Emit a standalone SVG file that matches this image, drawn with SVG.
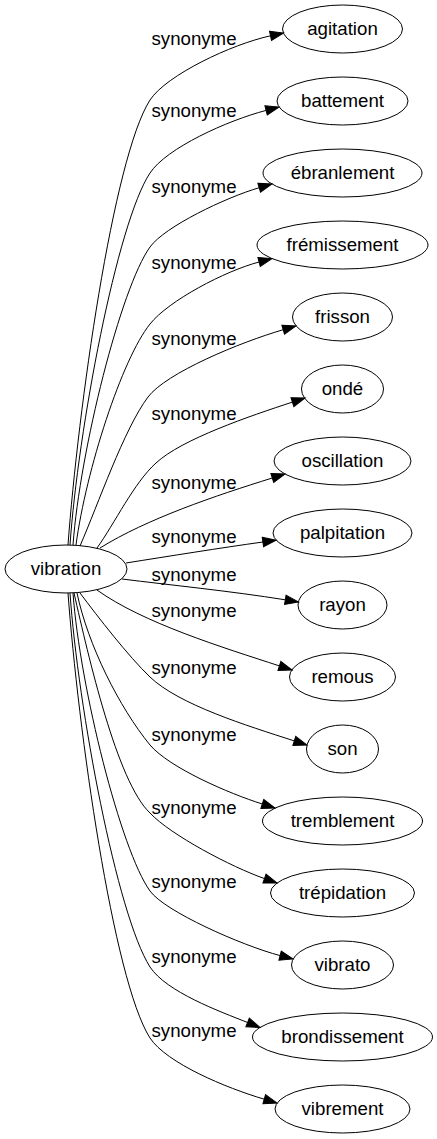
<svg xmlns="http://www.w3.org/2000/svg" width="437" height="1139" viewBox="0 0 437 1139">
<style>
.node ellipse{fill:none;stroke:#000;stroke-width:1}
text{font-family:"Liberation Sans",Arial,sans-serif;font-size:18.67px;text-anchor:middle;fill:#000}
.edges path{fill:none;stroke:#000;stroke-width:1;marker-end:url(#arr)}
</style>
<defs>
<marker id="arr" viewBox="0 0 13.3 9.4" refX="0" refY="4.7" markerWidth="13.3" markerHeight="9.4" markerUnits="userSpaceOnUse" orient="auto" overflow="visible">
<path d="M0,0 L13.3,4.7 L0,9.4 z" fill="#000" stroke="#000" stroke-width="1"/>
</marker>
</defs>
<rect width="437" height="1139" fill="#fff"/>
<g class="edges">
<path d="M68,545 C78,410 113,158 150,100 C166.5,75 231.5,44.3 270.5,35.8"/>
<path d="M70,545 C78,430 117,223 150,173 C166.5,148 227.4,120.5 266.1,110.4"/>
<path d="M73,545 C80,450 120.9,287.6 150,247 C164.6,226.7 225.6,197.5 259.2,187.7"/>
<path d="M76,545 C86,470 122,359 150,324 C168.6,300.6 225.2,270.9 259.1,262"/>
<path d="M80,546 C98,504.6 124,429 148,397 C166,373 240,342.3 283.2,329.7"/>
<path d="M97,548 C114.5,523.7 134.1,482.6 156,463 C181.6,439.2 249.7,416.1 292.4,402.1"/>
<path d="M100,548 C146.75,518.9 215,495.8 272.3,478"/>
<path d="M126,563 C170,556 220,548 262.9,542"/>
<path d="M122,579 C170,585 230,591 285.3,599.8"/>
<path d="M97,590 C143,623 222.4,647.3 279.4,665.9"/>
<path d="M80,593 C98,617 128.4,656.3 150,677 C178.8,704.6 246.7,725.6 294.3,740.9"/>
<path d="M77,593 C88,645 119,707 150,745 C169.5,767.8 228.9,793.5 262.3,804"/>
<path d="M74,593 C88.4,656.4 117,782 150,813 C170.4,834.9 231.5,867 264.5,878.6"/>
<path d="M73,593 C80,688 120.9,850.4 150,891 C164.6,911.3 241.4,945.4 280.1,955.6"/>
<path d="M70,593 C78,708 117,915 150,967 C166.5,992 219.7,1011.4 247.6,1022.5"/>
<path d="M68,593 C78,728 113,980 150,1038 C166.5,1063 225.9,1087.9 264.25,1099.2"/>
</g>
<g class="labels">
<text x="194" y="45">synonyme</text>
<text x="194" y="117">synonyme</text>
<text x="194" y="193">synonyme</text>
<text x="194" y="269">synonyme</text>
<text x="194" y="345">synonyme</text>
<text x="194" y="420">synonyme</text>
<text x="194" y="489">synonyme</text>
<text x="194" y="543">synonyme</text>
<text x="194" y="581">synonyme</text>
<text x="194" y="617">synonyme</text>
<text x="194" y="674">synonyme</text>
<text x="194" y="741">synonyme</text>
<text x="194" y="814">synonyme</text>
<text x="194" y="888">synonyme</text>
<text x="194" y="963">synonyme</text>
<text x="194" y="1037">synonyme</text>
</g>
<g id="vibration" class="node"><ellipse cx="66" cy="569" rx="61" ry="24"/><text x="66" y="575">vibration</text></g>
<g id="agitation" class="node"><ellipse cx="342.5" cy="29" rx="60" ry="24"/><text x="342.5" y="35">agitation</text></g>
<g id="battement" class="node"><ellipse cx="342.5" cy="101" rx="65.5" ry="24"/><text x="342.5" y="107">battement</text></g>
<g id="ebranlement" class="node"><ellipse cx="342.5" cy="173" rx="79.5" ry="24"/><text x="342.5" y="179">ébranlement</text></g>
<g id="fremissement" class="node"><ellipse cx="342.5" cy="245" rx="85.5" ry="24"/><text x="342.5" y="251">frémissement</text></g>
<g id="frisson" class="node"><ellipse cx="342.5" cy="317" rx="50" ry="24"/><text x="342.5" y="323">frisson</text></g>
<g id="onde" class="node"><ellipse cx="342.5" cy="389" rx="41" ry="24"/><text x="342.5" y="395">ondé</text></g>
<g id="oscillation" class="node"><ellipse cx="342.5" cy="461" rx="68.5" ry="24"/><text x="342.5" y="467">oscillation</text></g>
<g id="palpitation" class="node"><ellipse cx="342.5" cy="533" rx="69.5" ry="24"/><text x="342.5" y="539">palpitation</text></g>
<g id="rayon" class="node"><ellipse cx="342.5" cy="605" rx="44.5" ry="24"/><text x="342.5" y="611">rayon</text></g>
<g id="remous" class="node"><ellipse cx="342.5" cy="677" rx="53" ry="24"/><text x="342.5" y="683">remous</text></g>
<g id="son" class="node"><ellipse cx="342.5" cy="749" rx="36" ry="24"/><text x="342.5" y="755">son</text></g>
<g id="tremblement" class="node"><ellipse cx="342.5" cy="821" rx="80" ry="24"/><text x="342.5" y="827">tremblement</text></g>
<g id="trepidation" class="node"><ellipse cx="342.5" cy="893" rx="72" ry="24"/><text x="342.5" y="899">trépidation</text></g>
<g id="vibrato" class="node"><ellipse cx="342.5" cy="965" rx="51" ry="24"/><text x="342.5" y="971">vibrato</text></g>
<g id="brondissement" class="node"><ellipse cx="342.5" cy="1037" rx="90" ry="24"/><text x="342.5" y="1043">brondissement</text></g>
<g id="vibrement" class="node"><ellipse cx="342.5" cy="1109" rx="67.5" ry="24"/><text x="342.5" y="1115">vibrement</text></g>
</svg>
